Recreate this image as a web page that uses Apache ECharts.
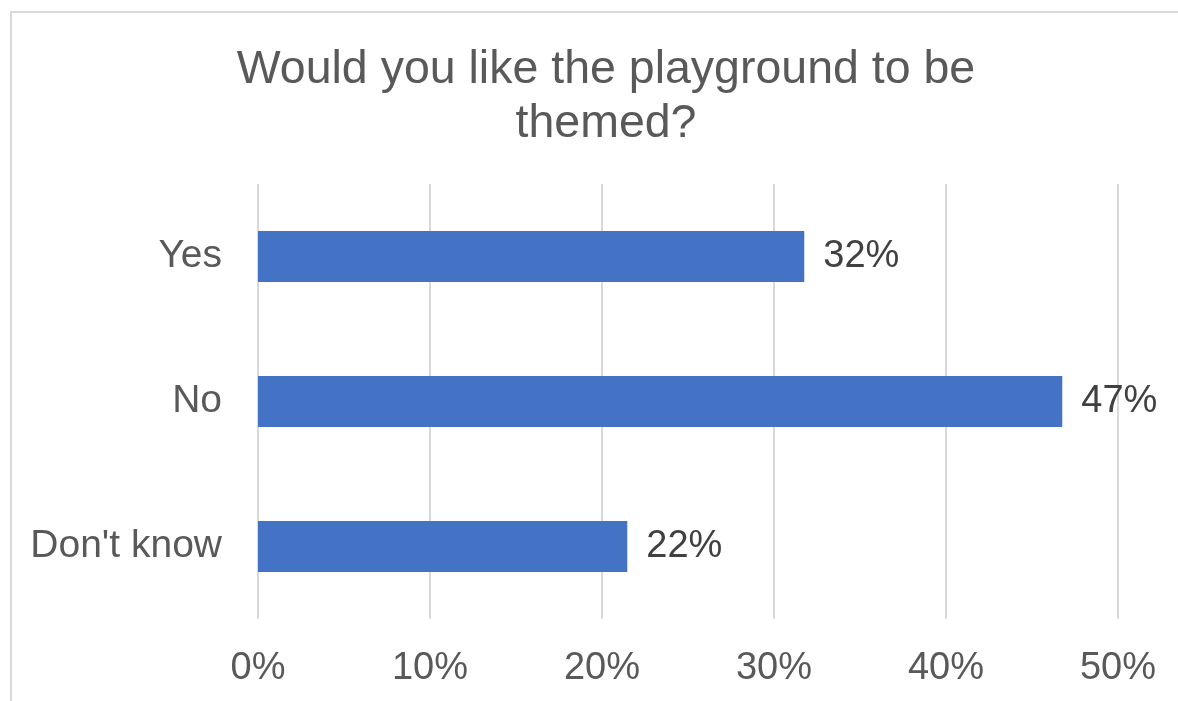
<!DOCTYPE html>
<html>
<head>
<meta charset="utf-8">
<script src="https://cdn.jsdelivr.net/npm/echarts@6/dist/echarts.min.js"></script>
<style>
html,body{margin:0;padding:0;background:#fff;}
#chart{width:1178px;height:701px;}
</style>
</head>
<body>
<div id="chart"></div>
<script>
const titleText = "Would you like the playground to be\nthemed?";
const categories = ["Yes", "No", "Don't know"];
const values = [31.76, 46.76, 21.47];
const valueLabels = ["32%", "47%", "22%"];
const xTicks = [0, 10, 20, 30, 40, 50];

const FONT = '"Liberation Sans", Arial, sans-serif';
const chart = echarts.init(document.getElementById('chart'), null, {renderer: 'canvas'});
chart.setOption({
  animation: false,
  backgroundColor: '#ffffff',
  textStyle: {fontFamily: FONT},
  title: {
    text: titleText,
    left: 601,
    top: 38,
    textAlign: 'center',
    textStyle: {fontFamily: FONT, fontSize: 46.5, fontWeight: 'normal', color: '#595959', lineHeight: 54}
  },
  graphic: [
    {type: 'line', shape: {x1: 10, y1: 12, x2: 1178, y2: 12}, style: {stroke: '#d9d9d9', lineWidth: 2}},
    {type: 'line', shape: {x1: 11, y1: 12, x2: 11, y2: 701}, style: {stroke: '#d9d9d9', lineWidth: 2}}
  ],
  grid: {left: 258, right: 60, top: 184, bottom: 82, containLabel: false},
  xAxis: {
    type: 'value',
    min: xTicks[0],
    max: xTicks[xTicks.length - 1],
    interval: 10,
    axisLine: {show: false},
    axisTick: {show: false},
    splitLine: {show: true, lineStyle: {color: '#d9d9d9', width: 2}},
    axisLabel: {
      formatter: v => v + '%',
      fontFamily: FONT, fontSize: 38, color: '#595959', margin: 31
    }
  },
  yAxis: {
    type: 'category',
    data: categories,
    inverse: true,
    axisLine: {show: false},
    axisTick: {show: false},
    splitLine: {show: false},
    axisLabel: {fontFamily: FONT, fontSize: 39, color: '#595959', margin: 36, padding: [6, 0, 0, 0]}
  },
  series: [{
    type: 'bar',
    data: values,
    barWidth: 51,
    itemStyle: {color: '#4472C4'},
    label: {
      show: true,
      position: 'right',
      distance: 19,
      formatter: p => valueLabels[p.dataIndex],
      fontFamily: FONT, fontSize: 38, color: '#404040', padding: [5, 0, 0, 0]
    }
  }]
});
</script>
</body>
</html>
